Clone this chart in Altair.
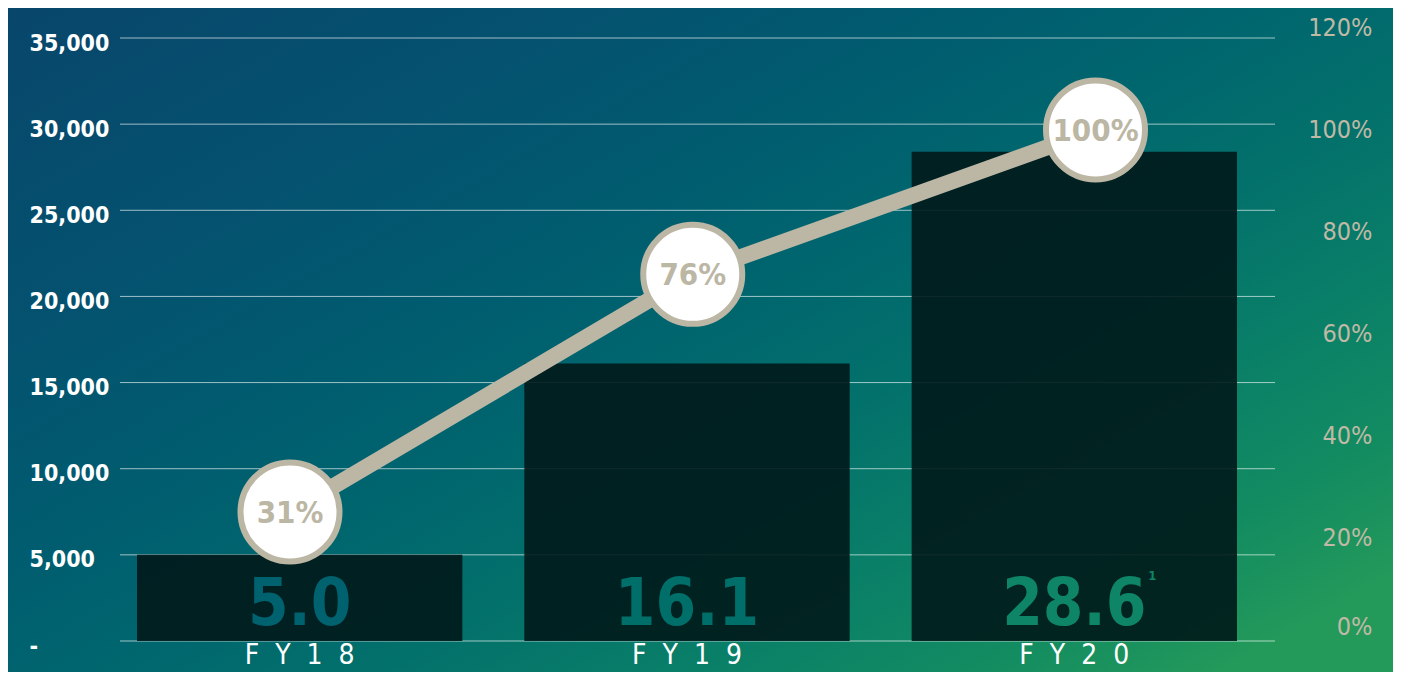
import altair as alt
import pandas as pd

# ---- data ----
years = ["FY18", "FY19", "FY20"]
revenue = [5000, 16100, 28400]
bar_labels = ["5.0", "16.1", "28.6"]
bar_label_colors = ["#00626f", "#006e69", "#0e8566"]
footnotes = ["", "", "1"]
pct_positions = [25.3, 71.9, 100.2]
pct_labels = ["31%", "76%", "100%"]
left_ticks = [0, 5000, 10000, 15000, 20000, 25000, 30000, 35000]
right_ticks = [0, 20, 40, 60, 80, 100, 120]

FONT = "DejaVu Sans Condensed, DejaVu Sans"
BEIGE = "#bcb6a4"

df = pd.DataFrame({
    "year": years,
    "revenue": revenue,
    "label": bar_labels,
    "lcolor": bar_label_colors,
    "foot": footnotes,
    "pct": pct_positions,
    "pct_label": pct_labels,
})
grid_df = pd.DataFrame({"tick": left_ticks})
bg_df = pd.DataFrame({"k": [0]})

gradient = alt.LinearGradient(
    gradient="linear",
    stops=[
        alt.GradientStop(color="#08466b", offset=0),
        alt.GradientStop(color="#04526f", offset=0.25),
        alt.GradientStop(color="#005d6f", offset=0.42),
        alt.GradientStop(color="#00676e", offset=0.54),
        alt.GradientStop(color="#03716b", offset=0.65),
        alt.GradientStop(color="#097e68", offset=0.77),
        alt.GradientStop(color="#138c61", offset=0.9),
        alt.GradientStop(color="#23995a", offset=1),
    ],
    x1=0, y1=0, x2=1, y2=0.85,
)

bg = alt.Chart(bg_df).mark_rect(fill=gradient, stroke=None).encode(
    x=alt.value(-112), x2=alt.value(1273), y=alt.value(-30), y2=alt.value(634)
)

x_axis = alt.Axis(
    title=None, labelAngle=0, domain=False, ticks=False, tickSize=0,
    labelFont=FONT, labelFontSize=28, labelFontWeight="normal",
    labelColor="white", labelPadding=0, zindex=1,
    labelExpr="join(split(datum.value, ''), ' \u00a0')",
)
x_band = alt.X(
    "year:N", sort=years,
    scale=alt.Scale(type="band", range=[17, 1117], paddingInner=0.16, paddingOuter=0),
    axis=x_axis,
)

yl_scale = alt.Scale(domain=[0, 35000], nice=False, zero=True)
y_axis = alt.Axis(
    title=None, values=left_ticks, domain=False, ticks=False, tickSize=0, grid=False,
    labelFont=FONT, labelFontSize=23, labelFontWeight="bold", labelColor="white",
    labelAlign="left", labelPadding=91, labelOffset=5, zindex=1,
    labelExpr="datum.value == 0 ? '-' : format(datum.value, ',')",
)

grid = alt.Chart(grid_df).mark_rule(color="white", opacity=0.62, strokeWidth=1).encode(
    y=alt.Y("tick:Q", scale=yl_scale, axis=y_axis)
)

bars = alt.Chart(df).mark_bar(color="#00181a", opacity=0.9).encode(
    x=x_band,
    y=alt.Y("revenue:Q", scale=yl_scale, axis=y_axis),
)

bar_text = alt.Chart(df).mark_text(
    font=FONT, fontSize=65, fontWeight="bold", baseline="alphabetic", align="center", dy=-16
).encode(
    x=x_band,
    y=alt.Y(datum=0, scale=yl_scale, axis=y_axis),
    text="label:N",
    color=alt.Color("lcolor:N", scale=None),
)

foot_text = alt.Chart(df).mark_text(
    font=FONT, fontSize=13, fontWeight="bold", baseline="alphabetic", align="center",
    dx=78, dy=-61
).encode(
    x=x_band,
    y=alt.Y(datum=0, scale=yl_scale, axis=y_axis),
    text="foot:N",
    color=alt.Color("lcolor:N", scale=None),
)

left = alt.layer(grid, bars, bar_text, foot_text)

x_point = alt.X(
    "year:N", sort=years,
    scale=alt.Scale(type="point", range=[170, 975.5], padding=0),
    axis=None,
)
yr_scale = alt.Scale(domain=[0, 120], range=[603, -9], nice=False, zero=False)
yr_axis = alt.Axis(
    orient="right", title=None, values=right_ticks, domain=False, ticks=False, tickSize=0,
    grid=False, labelFont=FONT, labelFontSize=25, labelFontWeight="normal",
    labelColor="#c0b9a6", labelAlign="right", labelPadding=97, labelOffset=-2, zindex=1,
    labelExpr="datum.value + '%'",
    labelBaseline={"condition": {"test": "datum.value == 0", "value": "bottom"}, "value": "middle"},
)

line = alt.Chart(df).mark_line(color=BEIGE, strokeWidth=16).encode(
    x=x_point,
    y=alt.Y("pct:Q", scale=yr_scale, axis=yr_axis),
)
dots = alt.Chart(df).mark_point(
    shape="circle", filled=True, fill="white", stroke=BEIGE, strokeWidth=6, size=9800, opacity=1
).encode(
    x=x_point,
    y=alt.Y("pct:Q", scale=yr_scale, axis=yr_axis),
)
dot_text = alt.Chart(df).mark_text(
    font=FONT, fontSize=31, fontWeight="bold", color=BEIGE, baseline="middle", align="center", dy=2
).encode(
    x=x_point,
    y=alt.Y("pct:Q", scale=yr_scale, axis=yr_axis),
    text="pct_label:N",
)

right = alt.layer(line, dots, dot_text)

chart = alt.layer(bg, left, right).resolve_scale(
    x="independent", y="independent"
).properties(
    width=1155, height=603,
    padding={"left": 112, "top": 30, "right": 118, "bottom": 31},
    autosize=alt.AutoSizeParams(type="none"),
    background="#03596d",
).configure_view(stroke=None)

chart.save("out.html", embed_options={"renderer": "svg", "actions": False})
